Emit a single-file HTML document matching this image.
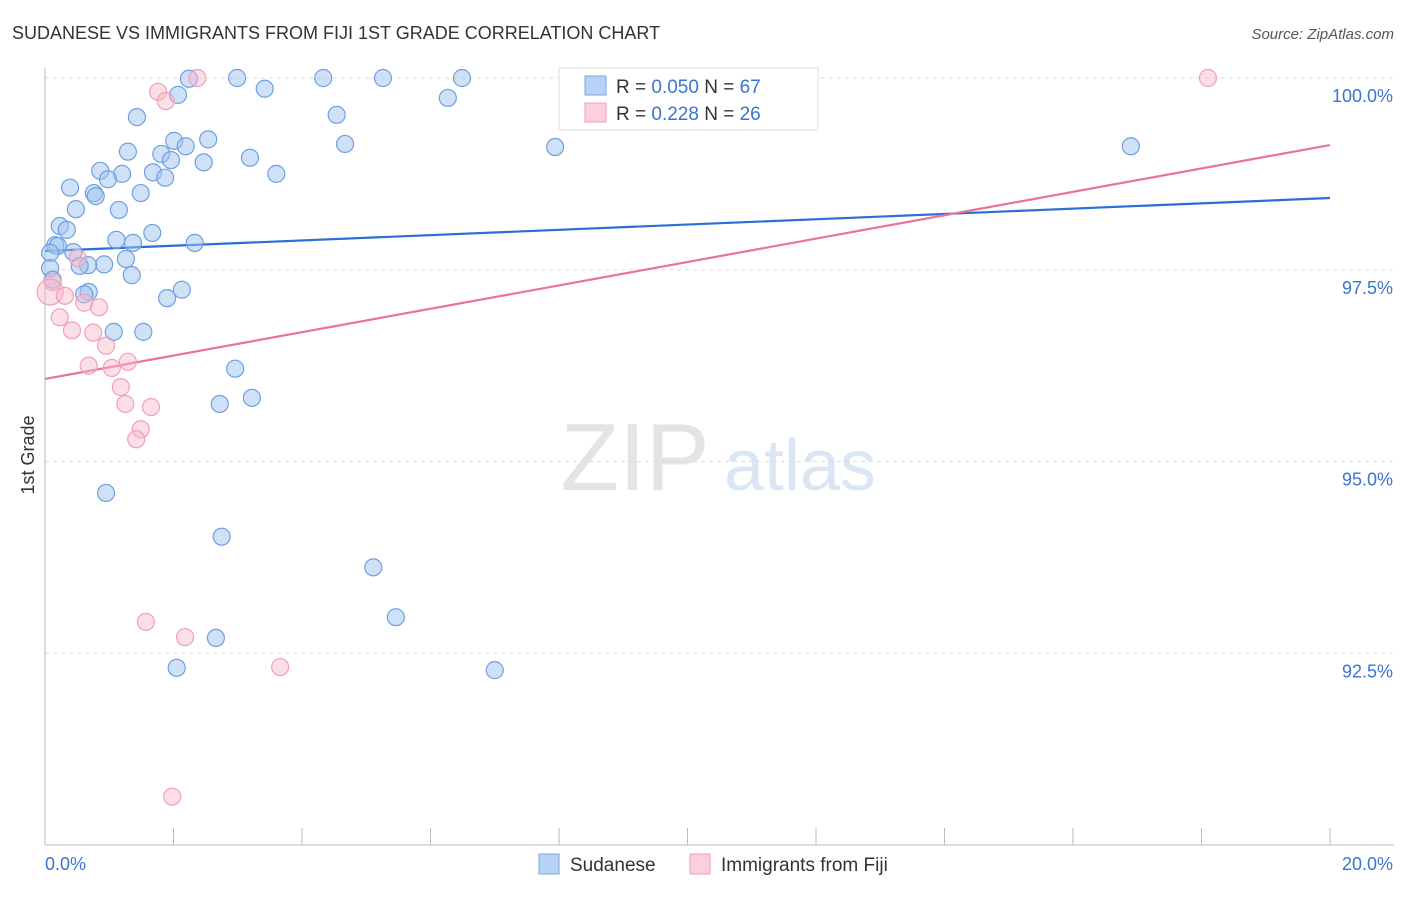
<!DOCTYPE html>
<html><head><meta charset="utf-8"><style>
body{margin:0;background:#fff;font-family:"Liberation Sans",sans-serif}
svg text{font-family:"Liberation Sans",sans-serif}
</style></head><body>
<svg width="1406" height="892" xmlns="http://www.w3.org/2000/svg">
<text x="12" y="39" font-size="18" fill="#333">SUDANESE VS IMMIGRANTS FROM FIJI 1ST GRADE CORRELATION CHART</text>
<text x="1394" y="39" font-size="15" fill="#555" text-anchor="end" font-style="italic">Source: ZipAtlas.com</text>
<text x="34" y="455" font-size="18" fill="#333" text-anchor="middle" transform="rotate(-90 34 455)">1st Grade</text>
<g><text x="635" y="490" font-size="96" fill="#e4e4e4" text-anchor="middle" font-family="Liberation Serif">ZIP</text><text x="800" y="490" font-size="72" fill="#dbe6f5" text-anchor="middle">atlas</text></g>
<g id="grid"></g><g id="axes"></g><g id="lines"></g><g id="dots"></g>
<g>
<rect x="559" y="68" width="259" height="62" fill="#fff" stroke="#ddd"/>
<rect x="585" y="76" width="21" height="19" fill="#b8d2f5" stroke="#7aa6e6"/>
<rect x="585" y="103" width="21" height="19" fill="#fbd0dc" stroke="#f0a0b8"/>
<text x="616" y="93" font-size="19" fill="#333">R = <tspan fill="#3a74d0">0.050</tspan>    N = <tspan fill="#3a74d0">67</tspan></text>
<text x="616" y="120" font-size="19" fill="#333">R =  <tspan fill="#3a74d0">0.228</tspan>    N = <tspan fill="#3a74d0">26</tspan></text>
</g>
<g>
<rect x="539" y="854" width="20" height="20" fill="#b8d2f5" stroke="#7aa6e6"/>
<text x="570" y="871" font-size="19" fill="#333">Sudanese</text>
<rect x="690" y="854" width="20" height="20" fill="#fbd0dc" stroke="#f0a0b8"/>
<text x="721" y="871" font-size="19" fill="#333">Immigrants from Fiji</text>
</g>
</svg>
<script>
const xTicks=[0,2,4,6,8,10,12,14,16,18,20];
const yTicks=[92.5,95,97.5,100];
const yTickLabels=["92.5%","95.0%","97.5%","100.0%"];
const blueX=[2.24,2.99,4.33,5.26,6.49,3.42,2.07,6.27,4.54,1.43,4.67,7.94,16.90,2.54,2.01,2.19,1.29,1.81,1.96,3.19,2.47,0.86,1.68,1.20,0.98,1.87,3.60,0.39,0.76,0.79,1.49,0.48,1.15,0.23,0.34,1.67,1.11,1.37,2.33,0.16,0.20,0.44,0.08,1.26,0.92,0.67,0.54,0.08,1.35,0.12,0.68,0.61,2.13,1.90,1.07,1.53,2.96,2.72,3.22,0.95,2.75,5.11,5.46,2.66,2.05,7.00,10.13];
const blueY=[99.99,100,100,100,100,99.86,99.78,99.74,99.52,99.49,99.14,99.10,99.11,99.20,99.18,99.11,99.04,99.01,98.93,98.96,98.90,98.79,98.77,98.75,98.68,98.70,98.75,98.57,98.50,98.46,98.50,98.29,98.28,98.07,98.02,97.98,97.89,97.85,97.85,97.82,97.81,97.73,97.72,97.64,97.57,97.56,97.55,97.52,97.43,97.37,97.21,97.18,97.24,97.13,96.69,96.69,96.21,95.75,95.83,94.59,94.02,93.62,92.97,92.70,92.31,92.28,99.45];
const pinkX=[2.37,1.76,1.88,18.10,0.51,0.12,0.08,0.31,0.61,0.84,0.23,0.42,0.75,0.95,0.68,1.04,1.29,1.18,1.25,1.65,1.49,1.42,1.57,2.18,3.66,1.98];
const pinkY=[100,99.82,99.70,100,97.65,97.34,97.21,97.16,97.07,97.01,96.88,96.71,96.68,96.51,96.25,96.22,96.30,95.97,95.75,95.71,95.42,95.29,92.91,92.71,92.32,90.63];
const blueTrend=[97.744,98.435];
const pinkTrend=[96.076,99.126];
const NS="http://www.w3.org/2000/svg";
const X0=45,X1=1330,Y0=845,Y1=78;
const sx=v=>X0+(v-0)/20*(X1-X0);
const sy=v=>Y0-(v-90)/10*(Y0-Y1);
function mk(t,a,p){const e=document.createElementNS(NS,t);for(const k in a)e.setAttribute(k,a[k]);document.getElementById(p).appendChild(e);return e;}
yTicks.forEach((t,i)=>{
 const g=mk('line',{x1:X0,x2:1394,y1:sy(t),y2:sy(t),stroke:'#ddd','stroke-dasharray':'4,4'},'grid');
 
 
 const l=mk('text',{x:1393,y:sy(t)+24,'font-size':18,fill:'#3a74d0','text-anchor':'end'},'axes');
 l.textContent=yTickLabels[i];
 
 
});
const ax=mk('line',{x1:X0,x2:X0,y1:68,y2:Y0,stroke:'#bbb'},'axes');


const bx=mk('line',{x1:X0,x2:1394,y1:Y0,y2:Y0,stroke:'#bbb'},'axes');


xTicks.forEach(t=>{
 const k=mk('line',{x1:sx(t),x2:sx(t),y1:Y0,y2:Y0-17,stroke:'#bbb'},'axes');
 
 
});
const xl0=mk('text',{x:45,y:870,'font-size':18,fill:'#3a74d0'},'axes');xl0.textContent='0.0%';


const xl1=mk('text',{x:1393,y:870,'font-size':18,fill:'#3a74d0','text-anchor':'end'},'axes');xl1.textContent='20.0%';


blueX.forEach((v,i)=>{
 const c=mk('circle',{cx:sx(v),cy:sy(blueY[i]),r:8.5,fill:'rgba(160,196,240,0.5)',stroke:'#6f9fe0','stroke-width':1.2},'dots');
 
 
});
pinkX.forEach((v,i)=>{
 const c=mk('circle',{cx:sx(v),cy:sy(pinkY[i]),r:i==6?13:8.5,fill:'rgba(248,182,200,0.45)',stroke:'#f0a0b8','stroke-width':1.2},'dots');
 
 
});
const bl=mk('line',{x1:sx(0),x2:sx(20),y1:sy(blueTrend[0]),y2:sy(blueTrend[1]),stroke:'#2a6fd6','stroke-width':2.2},'lines');


const pl=mk('line',{x1:sx(0),x2:sx(20),y1:sy(pinkTrend[0]),y2:sy(pinkTrend[1]),stroke:'#e8729a','stroke-width':2.2},'lines');


</script>
</body></html>
